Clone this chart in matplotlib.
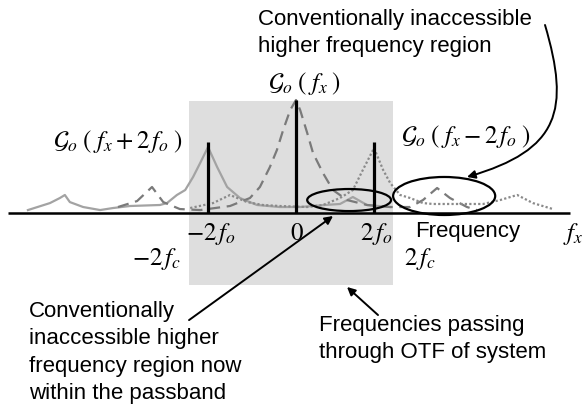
import matplotlib
matplotlib.use("Agg")
import matplotlib.pyplot as plt
from matplotlib.patches import Rectangle, Ellipse, FancyArrowPatch
from matplotlib.path import Path

plt.rcParams['font.family'] = ['Liberation Sans', 'DejaVu Sans']
plt.rcParams['mathtext.fontset'] = 'stix'

# ---- data (frequency in units of f_o, amplitude normalised to central peak) ----
# G_o(f_x + 2 f_o)  (solid gray)
plus_f = [-6.46, -5.93, -5.69, -5.57, -5.45, -5.13, -4.72, -4.41, -4.00, -3.28, -3.11,
          -2.87, -2.67, -2.48, -2.31, -2.12, -1.90, -1.66, -1.35, -0.94, -0.39, 0.10,
          0.70, 1.06, 1.37, 1.71, 2.27]
plus_a = [0.022, 0.084, 0.129, 0.156, 0.093, 0.049, 0.022, 0.040, 0.058, 0.067, 0.084,
          0.156, 0.200, 0.316, 0.440, 0.582, 0.404, 0.227, 0.129, 0.067, 0.049, 0.049,
          0.067, 0.076, 0.138, 0.067, 0.049]
# G_o(f_x)  (dashed gray)
zero_f = [-4.29, -3.83, -3.47, -3.20, -2.80, -2.31, -1.59, -1.11, -0.87, -0.63, -0.46,
          -0.31, -0.14, 0.00, 0.10, 0.27, 0.41, 0.65, 0.89, 1.23, 1.71, 2.27, 2.75,
          3.06, 3.40, 3.71, 4.12, 4.36]
zero_a = [0.049, 0.102, 0.227, 0.093, 0.031, 0.022, 0.058, 0.129, 0.227, 0.404, 0.556,
          0.733, 0.911, 1.000, 0.911, 0.707, 0.529, 0.351, 0.200, 0.111, 0.067, 0.049,
          0.049, 0.111, 0.218, 0.129, 0.049, 0.022]
# G_o(f_x - 2 f_o)  (dotted gray)
minus_f = [-2.55, -2.00, -1.59, -1.18, -0.80, -0.39, 0.27, 0.65, 1.06, 1.37, 1.61, 1.88,
           2.10, 2.27, 2.51, 2.75, 3.06, 3.30, 4.51, 4.92, 5.33, 5.71, 6.19]
minus_a = [0.040, 0.084, 0.156, 0.093, 0.067, 0.058, 0.049, 0.067, 0.129, 0.200, 0.378,
           0.573, 0.378, 0.262, 0.156, 0.129, 0.084, 0.076, 0.076, 0.111, 0.156, 0.084,
           0.031]
# delta lines (illumination frequencies)
delta_f = [-2.12, 0.00, 1.88]
delta_a = [0.627, 1.000, 0.627]
tick_f = [-2.05, 0.02, 1.93]
tick_labels = [r'$-2\,f_o$', r'$0$', r'$2\,f_o$']
passband = [-2.58, 2.34]          # -2f_c .. 2f_c
axis_range = [-6.94, 6.60]

fig = plt.figure(figsize=(5.87, 4.11), dpi=100)
ax = fig.add_axes([0, 0, 1, 1])
ax.set_xlim(-7.133, 7.012)
ax.set_ylim(-1.764, 1.889)
ax.axis('off')

# passband box
ax.add_patch(Rectangle((passband[0], -0.644), passband[1] - passband[0], 0.991 + 0.644,
                       facecolor='#dedede', edgecolor='none', zorder=0))

# frequency axis
ax.plot(axis_range, [0, 0], color='black', lw=1.8, zorder=3, solid_capstyle='butt')

# spectra
ax.plot(plus_f, plus_a, color='#a3a3a3', lw=1.6, zorder=2)
ax.plot(zero_f, zero_a, color='#7a7a7a', lw=1.6, ls=(0, (5, 3)), zorder=2)
ax.plot(minus_f, minus_a, color='#8a8a8a', lw=1.6, ls=(0, (1, 1)), zorder=2)

# delta lines
ax.vlines(delta_f, 0, delta_a, color='black', lw=2.3, zorder=4)

MS = 18
# tick labels
for f, lab in zip(tick_f, tick_labels):
    ax.text(f, -0.244, lab, ha='center', va='baseline', fontsize=MS)
ax.text(6.67, -0.244, r'$f_x$', ha='center', va='baseline', fontsize=MS)
ax.text(-3.35, -0.467, r'$-2\,f_c$', ha='center', va='baseline', fontsize=MS)
ax.text(2.99, -0.467, r'$2\,f_c$', ha='center', va='baseline', fontsize=MS)

# spectrum labels
ax.text(0.217, 1.089, r'$\mathcal{G}_o\;\left(\;f_x\;\right)$', ha='center', va='baseline', fontsize=MS)
ax.text(-4.30, 0.573, r'$\mathcal{G}_o\;\left(\;f_x+2\,f_o\;\right)$', ha='center', va='baseline', fontsize=MS)
ax.text(4.084, 0.618, r'$\mathcal{G}_o\;\left(\;f_x-2\,f_o\;\right)$', ha='center', va='baseline', fontsize=MS)

TS = 16
LS = 1.4
# text annotations (y = baseline of last line)
ax.text(2.867, -0.218, 'Frequency', ha='left', va='baseline', fontsize=TS)
ax.text(-0.916, 1.427, 'Conventionally inaccessible\nhigher frequency region',
        ha='left', va='baseline', fontsize=TS, linespacing=LS)
ax.text(-6.434, -1.658, 'Conventionally\ninaccessible higher\nfrequency region now\nwithin the passband',
        ha='left', va='baseline', fontsize=TS, linespacing=LS)
ax.text(0.554, -1.293, 'Frequencies passing\nthrough OTF of system',
        ha='left', va='baseline', fontsize=TS, linespacing=LS)

# ellipses
ax.add_patch(Ellipse((1.28, 0.111), 2.02, 0.196, fill=False, edgecolor='black', lw=1.6, zorder=5))
ax.add_patch(Ellipse((3.57, 0.147), 2.46, 0.338, fill=False, edgecolor='black', lw=1.6, zorder=5))

# arrows
ax.add_patch(FancyArrowPatch((-2.578, -0.956), (0.892, -0.031), arrowstyle='-|>',
                             mutation_scale=12, lw=1.4, color='black', shrinkA=0, shrinkB=0, zorder=6))
ax.add_patch(FancyArrowPatch((1.976, -0.911), (1.229, -0.662), arrowstyle='-|>',
                             mutation_scale=12, lw=1.4, color='black', shrinkA=0, shrinkB=0, zorder=6))
curve = Path([(6.0, 1.667), (6.602, 0.911), (6.361, 0.556), (4.12, 0.316)],
             [Path.MOVETO, Path.CURVE4, Path.CURVE4, Path.CURVE4])
ax.add_patch(FancyArrowPatch(path=curve, arrowstyle='-|>', mutation_scale=12, lw=1.4,
                             color='black', zorder=6))

fig.savefig('out.png', dpi=100)
